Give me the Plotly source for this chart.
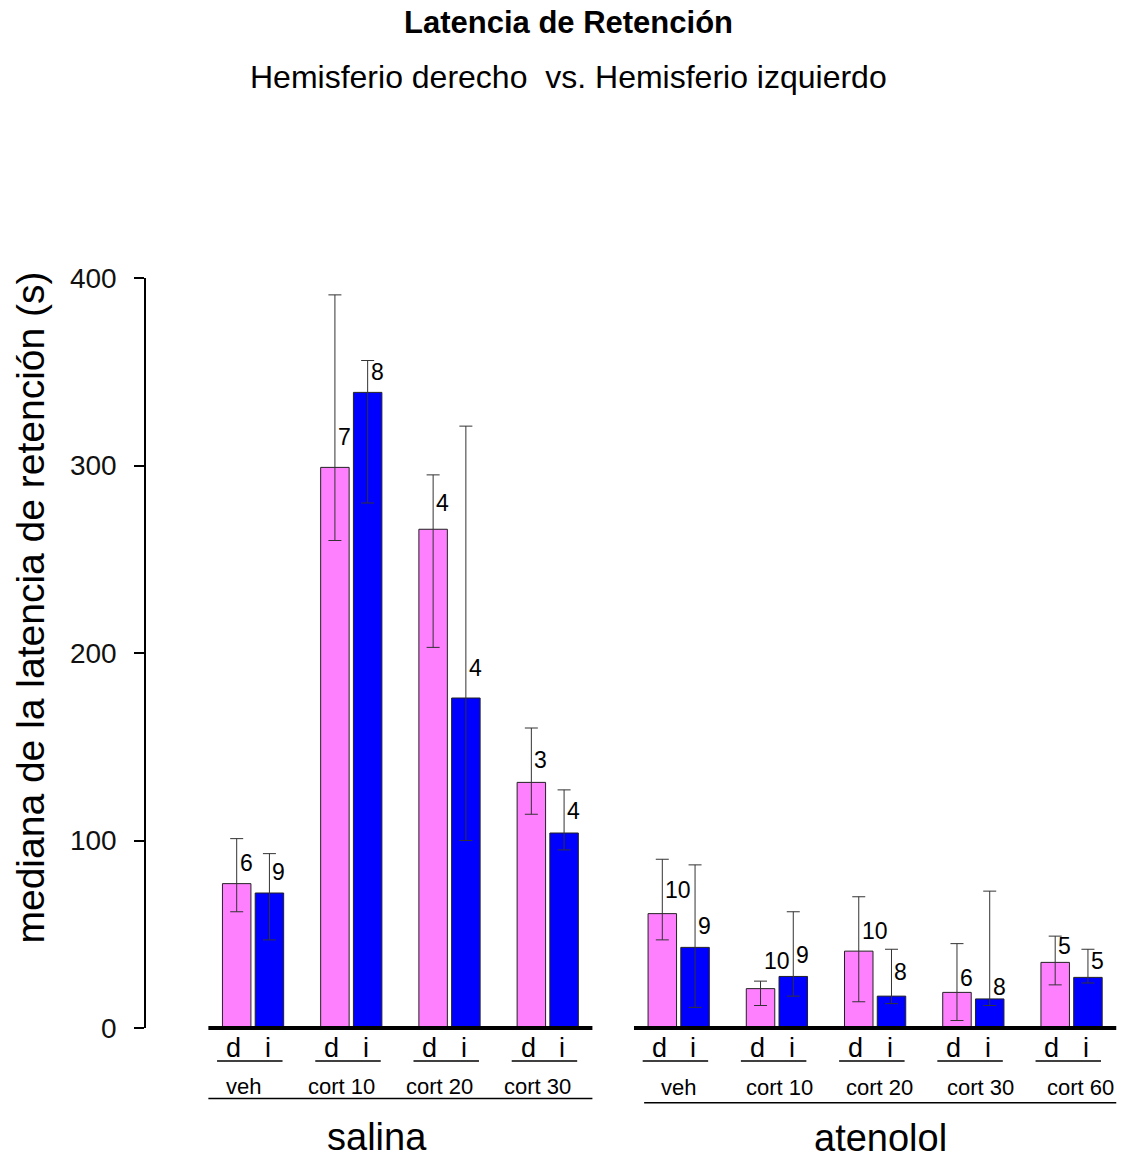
import plotly.graph_objects as go

# ---- data -------------------------------------------------------------
panels = ["salina", "atenolol"]
treatments_salina = ["veh", "cort 10", "cort 20", "cort 30"]
treatments_atenolol = ["veh", "cort 10", "cort 20", "cort 30", "cort 60"]
side_labels = ["d", "i"]

# median retention latency (s), right (d) and left (i) hemisphere
salina_d = [77, 299, 266, 131]
salina_i = [72, 339, 176, 104]
atenolol_d = [61, 21, 41, 19, 35]
atenolol_i = [43, 27.5, 17, 15.5, 27]

# upper / lower limits of the error bars
salina_d_hi = [101, 391, 295, 160]
salina_d_lo = [62, 260, 203, 114]
salina_i_hi = [93, 356, 321, 127]
salina_i_lo = [47, 280, 100, 95]
atenolol_d_hi = [90, 25, 70, 45, 49]
atenolol_d_lo = [47, 12, 14, 4, 23]
atenolol_i_hi = [87, 62, 42, 73, 42]
atenolol_i_lo = [11, 17, 13, 12, 24]

# number of animals per bar
salina_d_n = [6, 7, 4, 3]
salina_i_n = [9, 8, 4, 4]
atenolol_d_n = [10, 10, 10, 6, 5]
atenolol_i_n = [9, 9, 8, 8, 5]

y_ticks = [0, 100, 200, 300, 400]

# ---- layout helpers ---------------------------------------------------
FONT = "Liberation Sans, Arial, Helvetica, sans-serif"
PINK = "#FF80FF"
BLUE = "#0000FF"
BAR_W = 0.87

# heights (axis units) where the n of each bar is written
salina_d_n_at = [88, 315, 280, 143]
salina_i_n_at = [83, 350, 192, 116]
atenolol_d_n_at = [73.5, 36, 52, 26.5, 43.5]
atenolol_i_n_at = [54.5, 39, 30, 22, 36]

# slot positions: each treatment takes d, i and one empty slot;
# one extra empty slot separates the two panels
n_sal = len(treatments_salina)
x_sal_d = [3 * k for k in range(n_sal)]
x_ate_d = [3 * (n_sal + k) + 1 for k in range(len(treatments_atenolol))]
x_d = x_sal_d + x_ate_d
x_i = [x + 1 for x in x_d]

val_d = salina_d + atenolol_d
val_i = salina_i + atenolol_i
hi_d = salina_d_hi + atenolol_d_hi
lo_d = salina_d_lo + atenolol_d_lo
hi_i = salina_i_hi + atenolol_i_hi
lo_i = salina_i_lo + atenolol_i_lo
n_d = salina_d_n + atenolol_d_n
n_i = salina_i_n + atenolol_i_n
n_at_d = salina_d_n_at + atenolol_d_n_at
n_at_i = salina_i_n_at + atenolol_i_n_at


def err(vals, hi, lo):
    return dict(type="data", symmetric=False,
                array=[h - v for v, h in zip(vals, hi)],
                arrayminus=[v - l for v, l in zip(vals, lo)],
                color="#333333", thickness=1, width=6.5)


fig = go.Figure()
fig.add_trace(go.Bar(x=x_d, y=val_d, width=BAR_W, marker=dict(color=PINK, line=dict(color="#222222", width=1)),
                     error_y=err(val_d, hi_d, lo_d), showlegend=False, name="d"))
fig.add_trace(go.Bar(x=x_i, y=val_i, width=BAR_W, marker=dict(color=BLUE, line=dict(color="#222222", width=1)),
                     error_y=err(val_i, hi_i, lo_i), showlegend=False, name="i"))

ann = []
shapes = []


def txt(x, y, s, size, xref="x", yref="paper", xanchor="center", yanchor="middle", angle=0, bold=False, xshift=0):
    ann.append(dict(x=x, y=y, xref=xref, yref=yref, text=("<b>%s</b>" % s) if bold else s,
                    showarrow=False, xanchor=xanchor, yanchor=yanchor, textangle=angle, xshift=xshift,
                    font=dict(family=FONT, size=size, color="black")))


def hline(x0, x1, y, w):
    shapes.append(dict(type="line", xref="x", yref="paper", x0=x0, x1=x1, y0=y, y1=y,
                       line=dict(color="black", width=w)))


# sample sizes next to the error bars
for x, n, y in zip(x_d, n_d, n_at_d):
    txt(x, y, str(n), 23, yref="y", xanchor="left", xshift=1)
for x, n, y in zip(x_i, n_i, n_at_i):
    txt(x, y, str(n), 23, yref="y", xanchor="left", xshift=1)

# d / i labels with underline, treatment names
for k, (xd, xi) in enumerate(zip(x_d, x_i)):
    txt(xd - 0.1, -0.027, side_labels[0], 27)
    txt(xi - 0.05, -0.027, side_labels[1], 27)
    hline(xd - 0.6, xi + 0.4, -0.044, 1.5)

for k, xd in enumerate(x_sal_d):
    txt(xd + 0.5 - 0.3, -0.0775, treatments_salina[k], 22)
for k, xd in enumerate(x_ate_d):
    txt(x_ate_d[0] + 0.5 + 3.07 * k, -0.0795, treatments_atenolol[k], 22)

# baselines and panel underlines
pad = BAR_W / 2 + 0.43
hline(x_sal_d[0] - pad, x_sal_d[-1] + 1 + pad, 0, 4)
hline(x_ate_d[0] - pad, x_ate_d[-1] + 1 + pad, 0, 4)
hline(x_sal_d[0] - pad, x_sal_d[-1] + 1 + pad, -0.094, 1.5)
hline(x_ate_d[0] - 0.12 - BAR_W / 2, x_ate_d[-1] + 1 + pad, -0.0995, 1.5)

# panel names
txt(sum(x_sal_d) / len(x_sal_d) + 0.5 - 0.72, -0.145, panels[0], 38)
txt(sum(x_ate_d) / len(x_ate_d) + 0.5 + 0.15, -0.146, panels[1], 38)

# titles
txt(0.432, 1.3413, "Latencia de Retención", 31, xref="paper", bold=True)
txt(0.432, 1.268, "Hemisferio derecho  vs. Hemisferio izquierdo", 32, xref="paper")

# y axis title
txt(-0.1187, 0.5607, "mediana de la latencia de retención (s)", 39, xref="paper", angle=-90)

fig.update_layout(
    width=1123, height=1160,
    margin=dict(l=146, r=0, t=278, b=132, pad=0),
    plot_bgcolor="white", paper_bgcolor="white",
    barmode="overlay",
    annotations=ann, shapes=shapes,
    font=dict(family=FONT, color="black"),
    xaxis=dict(range=[-2.770, 27.071], visible=False, showgrid=False, zeroline=False),
    yaxis=dict(range=[0, 400], tickvals=y_ticks, ticktext=[str(t) for t in y_ticks],
               showline=True, linecolor="black", linewidth=1.5, ticks="outside", ticklen=10,
               tickwidth=1.5, tickcolor="black", ticklabelstandoff=12,
               tickfont=dict(family=FONT, size=28, color="#111111"),
               showgrid=False, zeroline=False),
)

fig.write_html("out.html")
